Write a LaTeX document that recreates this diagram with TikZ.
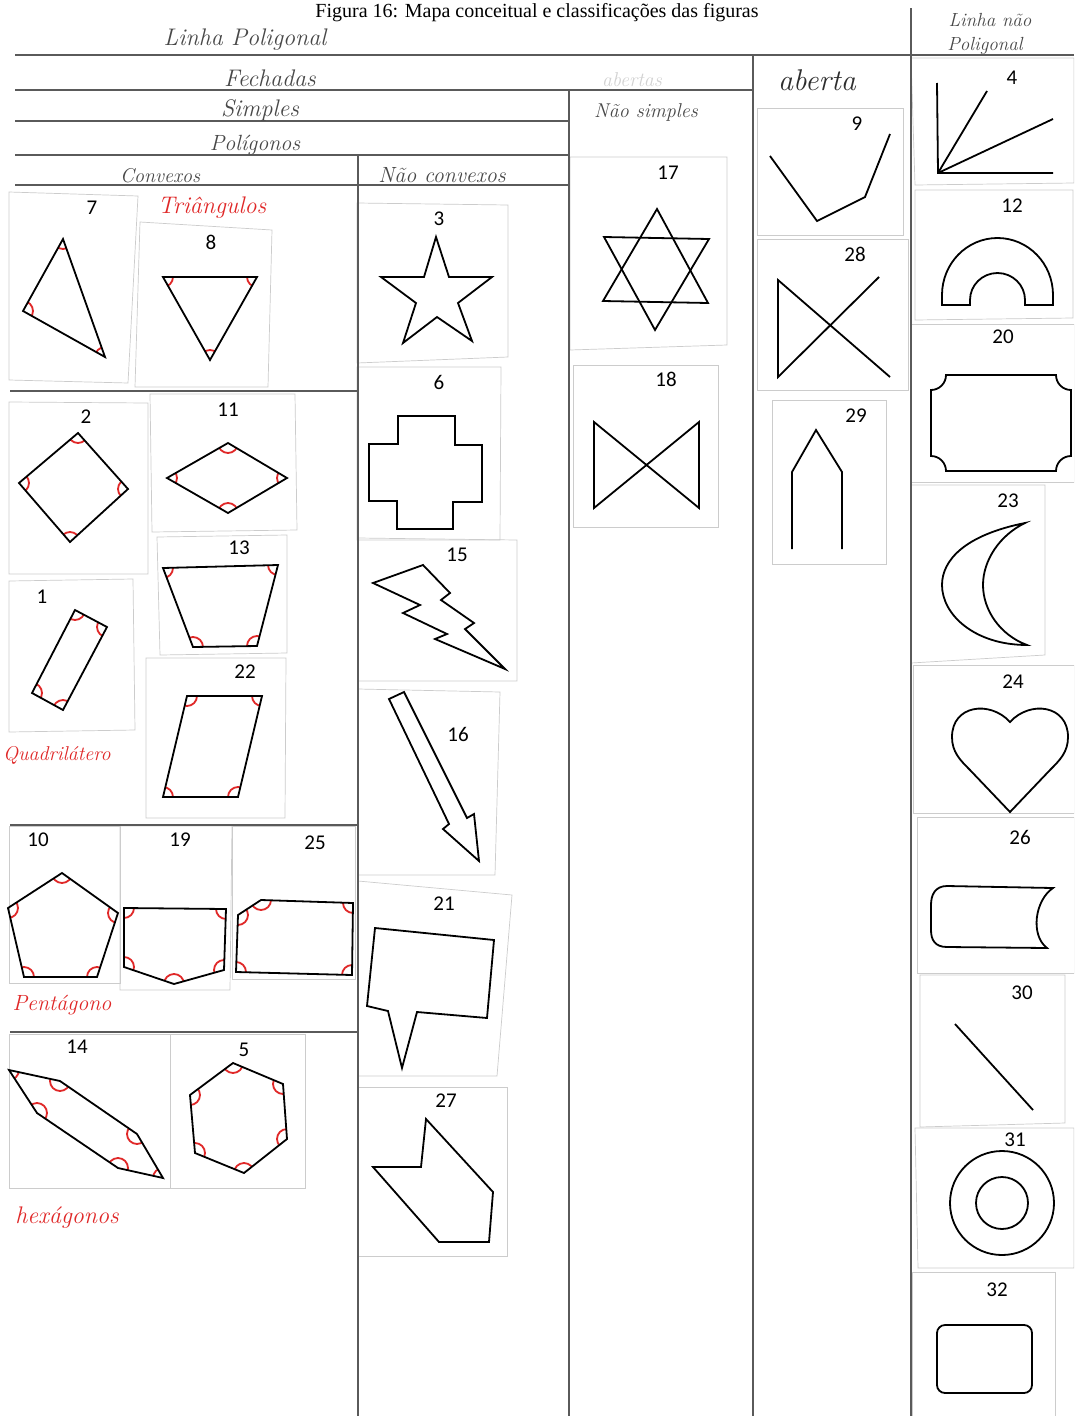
\documentclass[tikz,border=0pt]{standalone}
\usepackage{fontspec}
\newfontfamily\capfont{Liberation Serif}
\newfontfamily\numfont{Carlito}
\definecolor{pencil}{HTML}{484848}
\definecolor{penink}{HTML}{2E2E2E}
\definecolor{redink}{HTML}{E02828}
\definecolor{gridc}{HTML}{5A5A5A}
\newcommand\arcpoly[2]{%
  \begin{scope}\clip #1; \foreach \p in {#2} \draw[redarc] (\p) circle[radius=10pt];\end{scope}
  \draw[fig] #1;}
\begin{document}
\begin{tikzpicture}[x=1pt,y=-1pt,
  gridln/.style={draw=gridc, line width=1.1pt},
  card/.style={draw=gray!40, line width=0.7pt},
  fig/.style={draw=black, line width=1.8pt, line join=miter},
  redarc/.style={draw=redink, line width=1.8pt},
  numlbl/.style={font=\numfont\fontsize{21}{21}\selectfont, inner sep=0pt},
  hw/.style={text=pencil, inner sep=0pt, font=\fontsize{#1}{#1}\selectfont\itshape},
  rw/.style={text=redink, inner sep=0pt, font=\fontsize{#1}{#1}\selectfont\itshape}]
\path[use as bounding box] (0,0) rectangle (1074,1416);
\clip (0,0) rectangle (1074,1416);
\fill[white] (0,0) rectangle (1074,1416);
% caption
\node[anchor=base, inner sep=0pt, font=\capfont\fontsize{20}{20}\selectfont] (cap) at (537,17) {Figura 16: Mapa conceitual e classificações das figuras};
% cards
\draw[card] (9,192)--(138,196)--(128,383)--(9,380)--cycle;
\draw[card] (140,222)--(272,230)--(268,387)--(135,387)--cycle;
\draw[card] (9,402)--(148,403)--(148,574)--(9,574)--cycle;
\draw[card] (150,394)--(295,394)--(297,530)--(152,532)--cycle;
\draw[card] (157,537)--(287,535)--(287,653)--(160,655)--cycle;
\draw[card] (9,581)--(133,579)--(135,730)--(9,732)--cycle;
\draw[card] (146,658)--(286,658)--(285,818)--(146,818)--cycle;
\draw[card] (9,826)--(120,826)--(120,983)--(9,983)--cycle;
\draw[card] (120,826)--(232,826)--(230,990)--(120,990)--cycle;
\draw[card] (232,826)--(355,826)--(355,979)--(232,979)--cycle;
\draw[card] (9,1034)--(170,1034)--(170,1188)--(9,1188)--cycle;
\draw[card] (170,1034)--(305,1034)--(305,1188)--(170,1188)--cycle;
\draw[card] (357,203)--(508,205)--(508,357)--(357,363)--cycle;
\draw[card] (357,367)--(501,367)--(500,540)--(357,540)--cycle;
\draw[card] (358,538)--(517,540)--(517,681)--(358,681)--cycle;
\draw[card] (358,689)--(500,692)--(495,875)--(358,875)--cycle;
\draw[card] (358,881)--(512,895)--(497,1076)--(358,1076)--cycle;
\draw[card] (358,1087)--(507,1087)--(507,1256)--(358,1256)--cycle;
\draw[card] (570,157)--(727,157)--(727,345)--(570,350)--cycle;
\draw[card] (573,365)--(718,365)--(718,527)--(573,527)--cycle;
\draw[card] (757,108)--(903,108)--(903,235)--(757,235)--cycle;
\draw[card] (757,239)--(908,239)--(908,390)--(757,390)--cycle;
\draw[card] (772,400)--(886,400)--(886,564)--(772,564)--cycle;
\draw[card] (911,58)--(1074,58)--(1074,183)--(915,185)--cycle;
\draw[card] (915,190)--(1073,190)--(1073,318)--(915,320)--cycle;
\draw[card] (911,324)--(1074,324)--(1074,482)--(911,482)--cycle;
\draw[card] (911,485)--(1045,485)--(1045,655)--(911,663)--cycle;
\draw[card] (913,665)--(1074,665)--(1074,813)--(913,813)--cycle;
\draw[card] (917,817)--(1074,817)--(1074,973)--(917,973)--cycle;
\draw[card] (920,975)--(1065,975)--(1065,1123)--(920,1127)--cycle;
\draw[card] (915,1128)--(1074,1128)--(1074,1268)--(918,1268)--cycle;
\draw[card] (912,1272)--(1055,1272)--(1055,1416)--(912,1416)--cycle;
% grid lines
\draw[gridln] (15,55)--(1074,55);
\draw[gridln] (15,90)--(753,90);
\draw[gridln] (15,121)--(569,121);
\draw[gridln] (15,155)--(569,155);
\draw[gridln] (15,185)--(569,185);
\draw[gridln] (358,155)--(358,1416);
\draw[gridln] (569,90)--(569,1416);
\draw[gridln] (753,55)--(753,1416);
\draw[gridln] (911,8)--(911,1416);
\draw[gridln] (10,391)--(358,391);
\draw[gridln] (10,825)--(358,825);
\draw[gridln] (10,1032)--(358,1032);
% handwritten headings
\node[hw=24] (h1) at (245,40) {Linha Poligonal};
\node[hw=24] (h2) at (270,78) {Fechadas};
\node[hw=24] (h3) at (260,110) {Simples};
\node[hw=22] (h4) at (255,145) {Polígonos};
\node[hw=20] (h5) at (160,176) {Convexos};
\node[hw=22] (h6) at (442,175) {Não convexos};
\node[hw=20, text=gray!35] (h7) at (632,80) {abertas};
\node[hw=20] (h8) at (646,112) {Não simples};
\node[hw=30, text=penink] (h9) at (817,80) {aberta};
\node[hw=19] (h10) at (990,20) {Linha não};
\node[hw=19] (h11) at (985,46) {Poligonal};
\node[rw=24] (r1) at (212,208) {Triângulos};
\node[rw=20, anchor=west] (r2) at (3,755) {Quadrilátero};
\node[rw=22] (r3) at (62,1005) {Pentágono};
\node[rw=24] (r4) at (67,1218) {hexágonos};
% numbers
\node[numlbl] (n7) at (92,208) {7};
\node[numlbl] (n8) at (211,242) {8};
\node[numlbl] (n2) at (86,417) {2};
\node[numlbl] (n11) at (228,410) {11};
\node[numlbl] (n13) at (239,548) {13};
\node[numlbl] (n1) at (42,597) {1};
\node[numlbl] (n22) at (245,672) {22};
\node[numlbl] (n10) at (38,840) {10};
\node[numlbl] (n19) at (180,840) {19};
\node[numlbl] (n25) at (315,843) {25};
\node[numlbl] (n14) at (77,1047) {14};
\node[numlbl] (n5) at (244,1050) {5};
\node[numlbl] (n3) at (439,219) {3};
\node[numlbl] (n6) at (439,382) {6};
\node[numlbl] (n15) at (457,555) {15};
\node[numlbl] (n16) at (458,734) {16};
\node[numlbl] (n21) at (444,904) {21};
\node[numlbl] (n27) at (446,1101) {27};
\node[numlbl] (n17) at (668,173) {17};
\node[numlbl] (n18) at (666,379) {18};
\node[numlbl] (n9) at (857,124) {9};
\node[numlbl] (n28) at (855,254) {28};
\node[numlbl] (n29) at (856,416) {29};
\node[numlbl] (n4) at (1012,78) {4};
\node[numlbl] (n12) at (1012,206) {12};
\node[numlbl] (n20) at (1003,337) {20};
\node[numlbl] (n23) at (1008,501) {23};
\node[numlbl] (n24) at (1013,682) {24};
\node[numlbl] (n26) at (1020,837) {26};
\node[numlbl] (n30) at (1022,993) {30};
\node[numlbl] (n31) at (1015,1140) {31};
\node[numlbl] (n32) at (997,1290) {32};
% convex polygons with marked angles
\coordinate (t7a) at (63,239); \coordinate (t7b) at (23,311); \coordinate (t7c) at (105,357);
\arcpoly{(t7a)--(t7b)--(t7c)--cycle}{t7a,t7b,t7c}
\coordinate (t8a) at (163,277); \coordinate (t8b) at (257,277); \coordinate (t8c) at (210,360);
\arcpoly{(t8a)--(t8b)--(t8c)--cycle}{t8a,t8b,t8c}
\coordinate (s2a) at (78,433); \coordinate (s2b) at (128,489); \coordinate (s2c) at (70,542); \coordinate (s2d) at (19,483);
\arcpoly{(s2a)--(s2b)--(s2c)--(s2d)--cycle}{s2a,s2b,s2c,s2d}
\coordinate (r11a) at (228,443); \coordinate (r11b) at (287,478); \coordinate (r11c) at (228,513); \coordinate (r11d) at (167,478);
\arcpoly{(r11a)--(r11b)--(r11c)--(r11d)--cycle}{r11a,r11b,r11c,r11d}
\coordinate (q13a) at (163,568); \coordinate (q13b) at (278,565); \coordinate (q13c) at (257,646); \coordinate (q13d) at (193,647);
\arcpoly{(q13a)--(q13b)--(q13c)--(q13d)--cycle}{q13a,q13b,q13c,q13d}
\coordinate (q1a) at (75,610); \coordinate (q1b) at (107,627); \coordinate (q1c) at (63,710); \coordinate (q1d) at (32,693);
\arcpoly{(q1a)--(q1b)--(q1c)--(q1d)--cycle}{q1a,q1b,q1c,q1d}
\coordinate (q22a) at (187,696); \coordinate (q22b) at (262,696); \coordinate (q22c) at (238,797); \coordinate (q22d) at (163,797);
\arcpoly{(q22a)--(q22b)--(q22c)--(q22d)--cycle}{q22a,q22b,q22c,q22d}
\coordinate (p10a) at (62,873); \coordinate (p10b) at (118,913); \coordinate (p10c) at (97,977); \coordinate (p10d) at (24,977); \coordinate (p10e) at (8,908);
\arcpoly{(p10a)--(p10b)--(p10c)--(p10d)--(p10e)--cycle}{p10a,p10b,p10c,p10d,p10e}
\coordinate (p19a) at (124,908); \coordinate (p19b) at (226,909); \coordinate (p19c) at (224,970); \coordinate (p19d) at (174,984); \coordinate (p19e) at (124,967);
\arcpoly{(p19a)--(p19b)--(p19c)--(p19d)--(p19e)--cycle}{p19a,p19b,p19c,p19d,p19e}
\coordinate (p25a) at (238,915); \coordinate (p25b) at (261,900); \coordinate (p25c) at (353,903); \coordinate (p25d) at (352,975); \coordinate (p25e) at (236,972);
\arcpoly{(p25a)--(p25b)--(p25c)--(p25d)--(p25e)--cycle}{p25a,p25b,p25c,p25d,p25e}
\coordinate (h14a) at (9,1070); \coordinate (h14b) at (60,1081); \coordinate (h14c) at (137,1134); \coordinate (h14d) at (163,1178); \coordinate (h14e) at (118,1168); \coordinate (h14f) at (37,1113);
\arcpoly{(h14a)--(h14b)--(h14c)--(h14d)--(h14e)--(h14f)--cycle}{h14a,h14b,h14c,h14d,h14e,h14f}
\coordinate (h5a) at (233,1063); \coordinate (h5b) at (283,1084); \coordinate (h5c) at (287,1139); \coordinate (h5d) at (244,1173); \coordinate (h5e) at (195,1153); \coordinate (h5f) at (190,1095);
\arcpoly{(h5a)--(h5b)--(h5c)--(h5d)--(h5e)--(h5f)--cycle}{h5a,h5b,h5c,h5d,h5e,h5f}
% non-convex polygons
\draw[fig] (436,237)--(449,277)--(492,277)--(458,303)--(472,341)--(437,317)--(403,343)--(416,303)--(381,277)--(424,277)--cycle;
\draw[fig] (398,416)--(455,416)--(455,445)--(482,445)--(482,502)--(453,502)--(453,529)--(397,529)--(397,501)--(369,501)--(369,444)--(398,444)--cycle;
\draw[fig] (373,583)--(423,565)--(450,593)--(441,600)--(474,623)--(465,629)--(505,669)--(435,639)--(447,634)--(403,613)--(420,605)--cycle;
\draw[fig] (389,699)--(404,692)--(467,818)--(474,814)--(479,861)--(443,829)--(449,824)--cycle;
\draw[fig] (375,928)--(494,940)--(487,1018)--(417,1012)--(402,1068)--(388,1011)--(367,1006)--cycle;
\draw[fig] (426,1119)--(493,1192)--(489,1242)--(439,1242)--(373,1167)--(421,1167)--cycle;
% not simple
\draw[fig] (657,209)--(708,303)--(603,301)--cycle;
\draw[fig] (604,237)--(709,239)--(655,330)--cycle;
\draw[fig] (594,422)--(699,508)--(699,422)--(594,508)--cycle;
% open
\draw[fig] (770,156)--(817,221)--(865,197)--(890,134);
\draw[fig] (879,277)--(778,377)--(778,280)--(890,377);
\draw[fig] (792,549)--(792,472)--(816,430)--(842,472)--(842,549);
% non-polygonal lines
\draw[fig] (937,83)--(938,173)--(1053,173);
\draw[fig] (938,173)--(987,91);
\draw[fig] (938,173)--(1053,119);
\draw[fig] (942,305)--(942,295) arc[start angle=180,end angle=360,x radius=55.5,y radius=57]--(1053,305)--(1025,305)--(1025,300) arc[start angle=0,end angle=-180,x radius=27.5,y radius=27]--(970,305)--cycle;
\draw[fig] (946,375)--(1056,375) arc[start angle=180,end angle=90,radius=15]--(1071,456) arc[start angle=270,end angle=180,radius=15]--(946,471) arc[start angle=0,end angle=-90,radius=15]--(931,390) arc[start angle=90,end angle=0,radius=15]--cycle;
\draw[fig] (1025,523) .. controls (965,535) and (942,560) .. (942,585) .. controls (942,615) and (975,645) .. (1027,645) .. controls (1000,635) and (983,610) .. (983,585) .. controls (983,560) and (1000,535) .. (1025,523)--cycle;
\draw[fig] (1010,722) .. controls (1030,700) and (1068,705) .. (1068,737) .. controls (1068,752) and (1060,760) .. (1050,770)--(1010,812)--(970,770) .. controls (960,760) and (952,752) .. (952,737) .. controls (952,705) and (990,700) .. (1010,722)--cycle;
\draw[fig] (947,886)--(1053,888) .. controls (1035,900) and (1030,935) .. (1047,948)--(947,947) .. controls (935,947) and (931,940) .. (931,930)--(931,905) .. controls (931,895) and (935,886) .. (947,886)--cycle;
\draw[fig] (955,1024)--(1033,1110);
\draw[fig] (1002,1203) circle[radius=52];
\draw[fig] (1002,1203) circle[radius=26];
\draw[fig, rounded corners=8pt] (937,1325) rectangle (1032,1393);
\end{tikzpicture}
\end{document}
